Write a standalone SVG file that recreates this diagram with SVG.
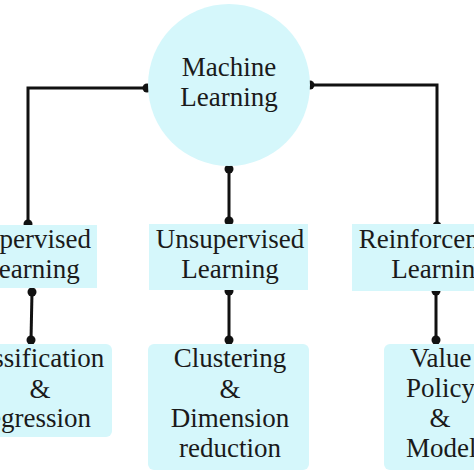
<svg xmlns="http://www.w3.org/2000/svg" width="474" height="474" viewBox="0 0 474 474">
<style>
.box{fill:#d5f7fb}
.t{font-family:"Liberation Serif","Times New Roman",serif;font-size:27px;fill:#1a1a1a;text-anchor:middle}
.ts{font-family:"Liberation Serif","Times New Roman",serif;font-size:27px;fill:#1a1a1a;text-anchor:start}
.ln{fill:none;stroke:#111;stroke-width:3}
.dot{fill:#111}
</style>
<rect width="474" height="474" fill="#fff"/>
<g id="connectors">
<polyline class="ln" points="147,88 28,88 28,224"/>
<polyline class="ln" points="310,85 437,85 437,226"/>
<line class="ln" x1="229" y1="169" x2="229" y2="221"/>
<line class="ln" x1="32" y1="292" x2="31" y2="340"/>
<line class="ln" x1="229" y1="291" x2="229" y2="340"/>
<line class="ln" x1="436" y1="291" x2="436" y2="340"/>
<circle class="dot" cx="147" cy="88" r="4.5"/>
<circle class="dot" cx="28" cy="224" r="4.5"/>
<circle class="dot" cx="310" cy="85" r="4.5"/>
<circle class="dot" cx="437" cy="226" r="4.5"/>
<circle class="dot" cx="229" cy="169" r="4.5"/>
<circle class="dot" cx="229" cy="221" r="4.5"/>
<circle class="dot" cx="32" cy="292" r="4.5"/>
<circle class="dot" cx="31" cy="340" r="4.5"/>
<circle class="dot" cx="229" cy="291" r="4.5"/>
<circle class="dot" cx="229" cy="340" r="4.5"/>
<circle class="dot" cx="436" cy="291" r="4.5"/>
<circle class="dot" cx="436" cy="340" r="4.5"/>
</g>
<g id="ml">
<circle class="box" cx="229" cy="85" r="81"/>
<text class="t" x="229" y="76">Machine</text>
<text class="t" x="229" y="106">Learning</text>
</g>
<g id="supervised">
<rect class="box" x="-10" y="225" width="107" height="63"/>
<text class="t" x="31" y="248">Supervised</text>
<text class="t" x="31" y="278">Learning</text>
</g>
<g id="unsupervised">
<rect class="box" x="149" y="224" width="159" height="66"/>
<text class="t" x="230" y="248">Unsupervised</text>
<text class="t" x="230" y="278">Learning</text>
</g>
<g id="reinforcement">
<rect class="box" x="352" y="224" width="140" height="67"/>
<text class="t" x="439" y="248">Reinforcement</text>
<text class="t" x="440" y="278">Learning</text>
</g>
<g id="classreg">
<rect class="box" x="-10" y="344" width="122" height="93" rx="6"/>
<text class="t" x="30" y="367">Classification</text>
<text class="t" x="40" y="398">&amp;</text>
<text class="t" x="31" y="427">Regression</text>
</g>
<g id="clustering">
<rect class="box" x="148" y="344" width="161" height="126" rx="6"/>
<text class="t" x="230" y="367">Clustering</text>
<text class="t" x="230" y="398">&amp;</text>
<text class="t" x="230" y="427">Dimension</text>
<text class="t" x="230" y="457">reduction</text>
</g>
<g id="valuepolicy">
<rect class="box" x="384" y="344" width="110" height="126" rx="6"/>
<text class="ts" x="410" y="367">Value</text>
<text class="ts" x="406" y="397">Policy</text>
<text class="t" x="440" y="427">&amp;</text>
<text class="ts" x="406" y="457">Model</text>
</g>
</svg>
